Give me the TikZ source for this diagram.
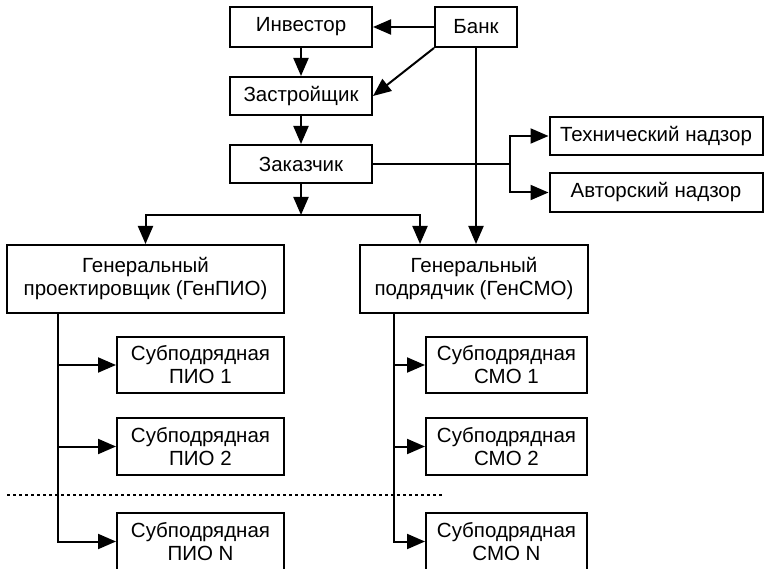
\documentclass[tikz,border=0pt]{standalone}
\usepackage{fontspec}
\setmainfont{Liberation Sans}
\usetikzlibrary{arrows.meta}
\tikzset{
  unit/.style={draw, line width=2pt, inner sep=0pt, align=center,
    font=\fontsize{20.5}{23}\selectfont},
  link/.style={line width=2pt, -{Triangle[length=18pt,width=15pt]}},
}
\begin{document}
\begin{tikzpicture}[x=1pt,y=-1pt]
  \useasboundingbox (0,0) rectangle (765,569);
  % top chain
  \node[unit, minimum width=142pt, minimum height=40pt] (invest) at (301,27) {Инвестор};
  \node[unit, minimum width=82pt, minimum height=40pt] (bank) at (476,27) {Банк};
  \node[unit, minimum width=142pt, minimum height=38pt] (builder) at (301,96) {Застройщик};
  \node[unit, minimum width=142pt, minimum height=38pt] (customer) at (301,164) {Заказчик};
  % supervision
  \node[unit, minimum width=213pt, minimum height=38pt] (tech) at (656,136) {Технический надзор};
  \node[unit, minimum width=213pt, minimum height=39pt] (author) at (656,192.5) {Авторский надзор};
  % general contractors
  \node[unit, minimum width=277pt, minimum height=68pt] (genpio) at (145.5,279) {Генеральный\\проектировщик (ГенПИО)};
  \node[unit, minimum width=228pt, minimum height=68pt] (gensmo) at (474,279) {Генеральный\\подрядчик (ГенСМО)};
  % subcontractors
  \node[unit, minimum width=167pt, minimum height=56pt] (pio1) at (200.5,365) {Субподрядная\\ПИО 1};
  \node[unit, minimum width=167pt, minimum height=57pt] (pio2) at (200.5,446.5) {Субподрядная\\ПИО 2};
  \node[unit, minimum width=167pt, minimum height=57pt] (pioN) at (200.5,541.5) {Субподрядная\\ПИО N};
  \node[unit, minimum width=161pt, minimum height=56pt] (smo1) at (506.5,365) {Субподрядная\\СМО 1};
  \node[unit, minimum width=161pt, minimum height=57pt] (smo2) at (506.5,446.5) {Субподрядная\\СМО 2};
  \node[unit, minimum width=161pt, minimum height=57pt] (smoN) at (506.5,541.5) {Субподрядная\\СМО N};
  % links
  \draw[link] (bank) -- (invest);
  \draw[link] (bank.south west) -- (builder.east);
  \draw[link] (invest) -- (builder);
  \draw[link] (builder) -- (customer);
  \draw[link] (bank.south) -- (bank.south |- gensmo.north);
  \coordinate (split) at (301,215);
  \draw[link] (customer) -- (split);
  \draw[link] (split) -| (genpio.north);
  \draw[link] (split) -| ([xshift=-54pt]gensmo.north);
  \coordinate (fork) at (510,164);
  \draw[line width=2pt] (customer.east) -- (fork);
  \draw[link] (fork) |- (tech.west);
  \draw[link] (fork) |- (author.west);
  % trunks
  \coordinate (piotrunk) at ([xshift=52pt]genpio.south west);
  \draw[link] (piotrunk) |- (pioN.west);
  \draw[link] (piotrunk |- pio1.west) -- (pio1.west);
  \draw[link] (piotrunk |- pio2.west) -- (pio2.west);
  \coordinate (smotrunk) at ([xshift=35pt]gensmo.south west);
  \draw[link] (smotrunk) |- (smoN.west);
  \draw[link] (smotrunk |- smo1.west) -- (smo1.west);
  \draw[link] (smotrunk |- smo2.west) -- (smo2.west);
  % divider
  \draw[line width=1.5pt, dash pattern=on 3pt off 3pt] (7,495) -- (443,495);
\end{tikzpicture}
\end{document}
